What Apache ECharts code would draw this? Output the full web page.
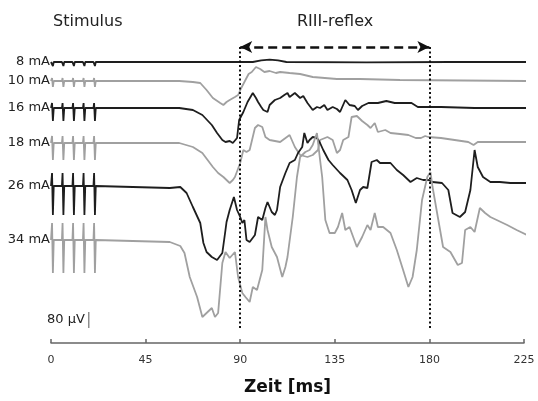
<!DOCTYPE html>
<html>
<head>
<meta charset="utf-8">
<script src="https://cdn.jsdelivr.net/npm/echarts@6/dist/echarts.min.js"></script>
<style>
  html, body { margin: 0; padding: 0; background: #fff; }
  #main { width: 538px; height: 401px; }
</style>
</head>
<body>
<div id="main"></div>
<script>
// Reizstärken (Kanäle von oben nach unten)
var intensities = ['8 mA', '10 mA', '16 mA', '18 mA', '26 mA', '34 mA'];
// Grundlinie jeder Spur im gemeinsamen µV-Raster
var traceOffset = [1405, 1310, 1175, 1000, 785, 515];
var traceColor = ['#1e1e1e', '#a0a0a0', '#1e1e1e', '#a0a0a0', '#1e1e1e', '#a0a0a0'];

// Reizartefakte: 5 Pulse, Ausschlag nach oben / unten in µV
var pulseTimes = [0.5, 5.5, 10.5, 15.5, 20.5];
var pulseUp = [5, 15, 25, 35, 65, 85];
var pulseDown = [20, 30, 65, 85, 145, 165];

// Spuren nach dem Reiz: [Zeit ms, Auslenkung µV]
var trace8 = [[22, 0], [60, 0], [96, 0], [100, 8], [104, 12], [108, 8], [112, 0], [150, -2], [190, 0], [226.5, 0]];
var trace10 = [[22, 0], [61, 0], [67.5, -5], [71, -10], [74, -45], [77, -85], [80.5, -110], [82, -120], [83.5, -105],
  [85, -95], [87.5, -80], [89, -70], [90.5, -35], [92.5, 5], [94, 35], [95.5, 45], [97.5, 70], [99.5, 60],
  [101.5, 45], [104, 50], [107, 40], [109, 45], [113.5, 40], [118.5, 35], [124.5, 20], [136, 10], [147, 10],
  [166, 5], [226.5, 0]];
var trace16 = [[22, 0], [61, 0], [67.5, -10], [72, -35], [76.5, -85], [79, -125], [81.5, -160], [83, -170],
  [83.5, -175], [85, -165], [86.5, -175], [88.5, -150], [89.5, -60], [91.5, -20], [93.5, 30], [96, 75],
  [97.5, 50], [98.5, 30], [100, 5], [101, -10], [103, -20], [104, 15], [106.5, 40], [109, 50], [111, 65],
  [112.5, 75], [113.5, 55], [116, 75], [118.5, 50], [120, 60], [122, 25], [124.5, -10], [126.5, 5], [128, 0],
  [130, 15], [131.5, -10], [134, 5], [136, -5], [137.5, -20], [140, 40], [142, 15], [144.5, 10], [146, -10],
  [148, 10], [151, 25], [155.5, 25], [159.5, 35], [163.5, 25], [171.5, 25], [174.5, 5], [185.5, 5],
  [201.5, 0], [226.5, 0]];
var trace18 = [[22, 0], [61, 0], [67.5, -20], [72, -50], [74.5, -85], [77, -120], [79.5, -150], [82, -170],
  [84, -190], [85, -200], [86.5, -185], [87.5, -170], [90, -100], [91.5, -35], [93, -45], [94.5, -35],
  [97, 75], [98.5, 90], [100.5, 80], [102, 30], [104, 15], [109, 5], [113.5, 40], [116, -20], [118.5, -60],
  [122, -70], [124.5, -60], [127, -35], [128, 15], [131.5, 30], [134, 15], [136, -50], [137.5, -35],
  [139, 15], [141.5, 30], [143, 130], [145.5, 135], [148, 110], [150.5, 90], [152, 75], [154, 100],
  [155.5, 55], [159, 65], [161.5, 50], [166, 45], [170, 40], [173.5, 25], [176, 25], [178, 35], [179.5, 30],
  [185.5, 25], [192, 15], [198.5, 5], [201, -10], [203, 5], [226.5, 5]];
var trace26 = [[22, 0], [56.5, -10], [61.5, -5], [64.5, -35], [67.5, -105], [71, -185], [72.5, -285],
  [74, -330], [76.5, -355], [79, -370], [81.5, -335], [83, -220], [83.5, -180], [85, -120], [87, -55],
  [88.5, -120], [90, -155], [91, -185], [92, -170], [93, -270], [94.5, -280], [97, -245], [98.5, -155],
  [100.5, -170], [102, -110], [103, -80], [105, -130], [106.5, -145], [107.5, -120], [109, -5], [111.5, 65],
  [113.5, 115], [116, 130], [117.5, 165], [119.5, 195], [120.5, 265], [122, 215], [123, 230], [124.5, 245],
  [126.5, 240], [128, 215], [129.5, 180], [132, 130], [134, 105], [137.5, 65], [141, 30], [143, -20],
  [145, -85], [147, -20], [148.5, -5], [150.5, -10], [152.5, 120], [155, 130], [156.5, 115], [159, 115],
  [161.5, 115], [164.5, 80], [167.5, 55], [171, 20], [174, 40], [177, 30], [179.5, 30], [181.5, 20],
  [186, 15], [189, -20], [191, -135], [194.5, -155], [197, -130], [199.5, -20], [201.5, 180], [203, 95],
  [205.5, 45], [209, 20], [213.5, 20], [218.5, 15], [226.5, 15]];
var trace34 = [[22, 0], [56.5, -10], [61.5, -30], [63.5, -65], [66, -185], [69.5, -285], [72, -385],
  [74, -365], [76.5, -340], [78, -385], [79.5, -365], [81.5, -115], [83, -60], [85, -90], [87.5, -60],
  [89, -185], [91, -265], [92.5, -285], [94.5, -310], [96, -235], [98, -250], [100.5, -150], [102, 115],
  [103, 50], [105, -35], [107.5, -85], [110, -185], [111.5, -135], [112.5, -85], [115, 115], [117, 315],
  [118.5, 415], [121, 440], [123, 450], [124.5, 475], [126.5, 535], [128, 400], [129, 315], [130.5, 100],
  [132.5, 35], [135, 35], [136.5, 65], [138.5, 135], [140, 50], [142, 65], [145.5, -35], [148, 15],
  [150.5, 75], [152, 50], [154, 135], [155.5, 65], [158, 65], [161.5, 35], [164.5, -50], [167.5, -150],
  [170, -235], [172, -185], [174, -50], [176.5, 200], [179, 315], [180.5, 340], [181.5, 265], [184, 115],
  [186.5, -35], [190, -60], [193.5, -125], [195.5, -115], [197, 50], [199.5, 65], [201.5, 40], [204, 160],
  [206.5, 135], [209, 115], [212, 100], [217, 75], [221.5, 50], [226.5, 25]];
var traces = [trace8, trace10, trace16, trace18, trace26, trace34];

// Zeitachse
var timeMin = 0, timeMax = 225, timeStep = 45;
// Skalenbalken 80 µV
var scaleBar = [[18, 75], [18, 155]];
// RIII-Fenster (ms) und Höhe der Markierung
var reflexWindow = [90, 180];
var markTop = 1480, markBottom = 65;

var FONT = 'DejaVu Sans, Verdana, sans-serif';

function buildTrace(i) {
    var pts = [[0, 0]];
    pulseTimes.forEach(function (p) {
        pts.push([p - 0.3, 0], [p, pulseUp[i]], [p + 0.4, -pulseDown[i]], [p + 0.8, 0]);
    });
    traces[i].forEach(function (d) { pts.push(d); });
    return pts.map(function (d) { return [d[0], d[1] + traceOffset[i]]; });
}

var series = intensities.map(function (name, i) {
    return {
        name: name,
        type: 'line',
        data: buildTrace(i),
        showSymbol: false,
        clip: false,
        silent: true,
        lineStyle: { color: traceColor[i], width: 1.8 },
        markPoint: {
            symbol: 'circle', symbolSize: 0,
            label: { show: true, position: 'left', distance: 1, formatter: name,
                color: '#222', fontSize: 13, fontFamily: FONT },
            data: [{ coord: [0, traceOffset[i]] }]
        }
    };
});

// Skalenbalken
series.push({
    type: 'line',
    data: scaleBar,
    showSymbol: false,
    silent: true,
    lineStyle: { color: '#555', width: 1 },
    markPoint: {
        symbol: 'circle', symbolSize: 0,
        label: { show: true, position: 'left', distance: 4, formatter: '80 µV',
            color: '#222', fontSize: 13, fontFamily: FONT },
        data: [{ coord: [scaleBar[0][0], (scaleBar[0][1] + scaleBar[1][1]) / 2] }]
    }
});

// Reflexfenster: gepunktete Grenzen und Doppelpfeil
series.push({
    type: 'line',
    data: [],
    silent: true,
    markLine: {
        silent: true,
        animation: false,
        label: { show: false },
        data: [
            [{ coord: [reflexWindow[0], markTop], symbol: 'none' },
             { coord: [reflexWindow[0], markBottom], symbol: 'none',
               lineStyle: { type: [2, 2.5], width: 2, color: '#111' } }],
            [{ coord: [reflexWindow[1], markTop], symbol: 'none' },
             { coord: [reflexWindow[1], markBottom], symbol: 'none',
               lineStyle: { type: [2, 2.5], width: 2, color: '#111' } }],
            [{ coord: [reflexWindow[0], markTop], symbol: 'arrow', symbolSize: [9, 12] },
             { coord: [reflexWindow[1], markTop], symbol: 'arrow', symbolSize: [9, 12],
               lineStyle: { type: [9, 5], width: 2.5, color: '#111' } }]
        ]
    }
});

var chart = echarts.init(document.getElementById('main'), null, { renderer: 'canvas' });
chart.setOption({
    animation: false,
    backgroundColor: '#fff',
    textStyle: { fontFamily: FONT },
    grid: { left: 51, right: 14, top: 43, bottom: 58 },
    xAxis: {
        type: 'value',
        min: timeMin, max: timeMax, interval: timeStep,
        name: 'Zeit [ms]',
        nameLocation: 'middle',
        nameGap: 36,
        nameTextStyle: { fontSize: 17, fontWeight: 'bold', color: '#111', fontFamily: FONT },
        axisLine: { lineStyle: { color: '#666', width: 1.5 } },
        axisTick: { inside: true, length: 4, lineStyle: { color: '#666', width: 1.5 } },
        axisLabel: { color: '#333', fontSize: 11, margin: 12, fontFamily: FONT },
        splitLine: { show: false }
    },
    yAxis: { type: 'value', min: 0, max: 1500, show: false },
    graphic: [
        { type: 'text', left: 53, top: 14,
          style: { text: 'Stimulus', fontSize: 16, fill: '#222', fontFamily: FONT } },
        { type: 'text', left: 297, top: 14,
          style: { text: 'RIII-reflex', fontSize: 16, fill: '#222', fontFamily: FONT } }
    ],
    series: series
});
</script>
</body>
</html>
